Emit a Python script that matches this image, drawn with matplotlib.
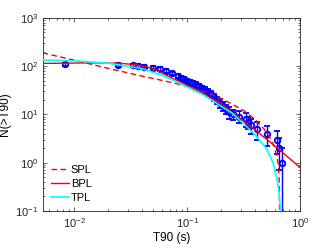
import numpy as np
import matplotlib
matplotlib.use("Agg")
import matplotlib.pyplot as plt

plt.rcParams['font.family'] = ['Liberation Sans', 'DejaVu Sans']
plt.rcParams['mathtext.default'] = 'regular'

# observed cumulative counts N(>T90) with error bars
t90 = [0.00826, 0.0246, 0.0328, 0.0367, 0.0411, 0.0493, 0.057, 0.065, 0.0736,
       0.0823, 0.0875, 0.093, 0.099, 0.105, 0.112, 0.119, 0.1265, 0.1346, 0.143,
       0.152, 0.162, 0.172, 0.183, 0.1945, 0.207, 0.22, 0.234, 0.254, 0.287,
       0.331, 0.345, 0.367, 0.419, 0.504, 0.625, 0.644, 0.69]
n_obs = [109, 106, 104, 101, 98, 93, 87, 80, 71, 63, 58, 54, 50, 47, 44, 41, 38,
         35, 32, 29, 26, 23, 20, 17, 15, 13, 11, 10, 9, 8, 7, 6, 5, 4, 3, 2, 1]
n_err = [8, 8, 8, 8, 8, 7.5, 7.5, 7, 6.5, 6, 6, 6, 5.5, 5.5, 5, 5, 5, 4.5, 4.5,
         4.5, 4, 4, 3.5, 3.5, 3, 3, 3, 2.5, 2.5, 2.5, 2, 2, 2, 1.8, 1.5, 1.3, 1]

# fitted models
spl_t = [0.00525, 0.01, 0.02, 0.04, 0.063, 0.1, 0.141, 0.2, 0.251, 0.316, 0.398,
         0.479, 0.537, 0.589, 0.624, 0.641, 0.652, 0.658]
spl_n = [189, 133, 90, 62, 49.5, 38.5, 29.5, 21.4, 16.2, 12.0, 7.9, 5.0, 3.4,
         2.14, 1.32, 0.89, 0.45, 0.063]

bpl_t = [0.00513, 0.01, 0.0158, 0.0251, 0.0355, 0.0501, 0.0708, 0.1, 0.141, 0.2,
         0.282, 0.398, 0.631, 1.0]
bpl_n = [114, 116, 117, 115, 107, 89, 59, 40, 26.3, 16.6, 8.9, 4.8, 2.0, 0.79]

tpl_t = [0.00522, 0.01, 0.02, 0.04, 0.063, 0.1, 0.141, 0.182, 0.251, 0.336, 0.398,
         0.501, 0.575, 0.631, 0.653, 0.668, 0.673]
tpl_n = [134, 129, 115, 89, 62, 37, 25, 17, 10.5, 5.6, 3.8, 2.0, 1.0, 0.40, 0.22,
         0.11, 0.079]

fig = plt.figure(figsize=(3.32, 2.49), dpi=100)
ax = fig.add_axes([0.13, 0.153, 0.774, 0.775])

ax.set_xscale('log')
ax.set_yscale('log')

ax.errorbar(t90, n_obs, yerr=n_err, fmt='o', color='blue', mfc='none', mec='blue',
            ms=4, mew=1.3, elinewidth=1.0, capsize=2, capthick=1.0, zorder=2)

ax.plot(spl_t, spl_n, '--', color='red', lw=1.0, dashes=(4, 2.5), label='SPL', zorder=3)
ax.plot(bpl_t, bpl_n, '-', color='red', lw=1.0, label='BPL', zorder=3)
ax.plot(tpl_t, tpl_n, '-', color='cyan', lw=1.2, label='TPL', zorder=3)

ax.set_xlim(0.0053, 1)
ax.set_ylim(0.1, 1000)

ax.set_xlabel('T90 (s)', fontsize=8.5, labelpad=2)
ax.set_ylabel('N(>T90)', fontsize=8.5, labelpad=3)

ax.tick_params(which='both', direction='in', top=True, right=True,
               labelsize=8, colors='#262626', width=0.5)
ax.tick_params(which='major', length=3)
ax.tick_params(which='minor', length=1.5)
for s in ax.spines.values():
    s.set_color('#262626')
    s.set_linewidth(0.6)

ax.legend(loc='lower left', bbox_to_anchor=(0.0, 0.0), frameon=False, fontsize=8,
          handlelength=1.6, handletextpad=0.2, labelspacing=0.38, borderaxespad=0.3)

fig.savefig('out.png', dpi=100)
